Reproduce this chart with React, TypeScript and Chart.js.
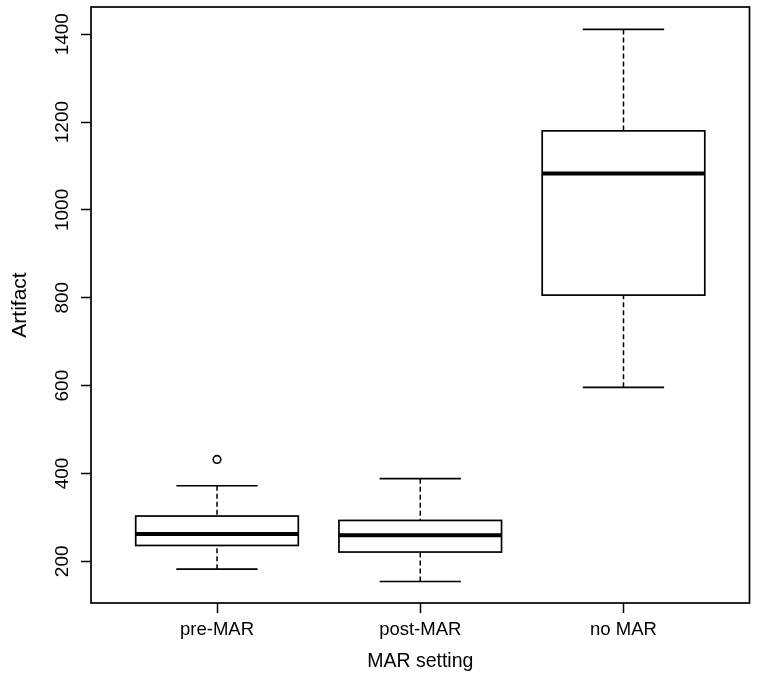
import React, { useEffect, useRef } from "react";
import { Chart, registerables } from "chart.js";

Chart.register(...registerables);

// ---- Data ----
const categories = ["pre-MAR", "post-MAR", "no MAR"];
const whiskerLow = [182, 154, 596];
const q1 = [236, 221, 806];
const median = [262, 259, 1083];
const q3 = [303, 293, 1180];
const whiskerHigh = [372, 388, 1411];
const outlierCategory = [1];
const outlierValue = [432];
const yTicks = [200, 400, 600, 800, 1000, 1200, 1400];
const xTicks = [1, 2, 3];

const FONT = "'Liberation Sans', Arial, Helvetica, sans-serif";
const INK = "#000";
const BOX_HALF = 0.4;
const CAP_HALF = 0.2;

const boxPlugin = {
  id: "rBoxes",
  beforeDatasetsDraw(chart: any) {
    const { ctx, scales } = chart;
    const x = scales.x;
    const y = scales.y;
    ctx.save();
    ctx.strokeStyle = "#000";
    categories.forEach((_, i) => {
      const c = i + 1;
      const xc = x.getPixelForValue(c);
      const xl = x.getPixelForValue(c - BOX_HALF);
      const xr = x.getPixelForValue(c + BOX_HALF);
      const cl = x.getPixelForValue(c - CAP_HALF);
      const cr = x.getPixelForValue(c + CAP_HALF);
      const yLo = y.getPixelForValue(whiskerLow[i]);
      const yQ1 = y.getPixelForValue(q1[i]);
      const yMed = y.getPixelForValue(median[i]);
      const yQ3 = y.getPixelForValue(q3[i]);
      const yHi = y.getPixelForValue(whiskerHigh[i]);

      // dashed whiskers
      ctx.lineWidth = 1.5;
      ctx.setLineDash([5, 3]);
      ctx.beginPath();
      ctx.moveTo(xc, yHi);
      ctx.lineTo(xc, yQ3);
      ctx.moveTo(xc, yLo);
      ctx.lineTo(xc, yQ1);
      ctx.stroke();
      ctx.setLineDash([]);

      // caps
      ctx.lineWidth = 1.7;
      ctx.beginPath();
      ctx.moveTo(cl, yHi);
      ctx.lineTo(cr, yHi);
      ctx.moveTo(cl, yLo);
      ctx.lineTo(cr, yLo);
      ctx.stroke();

      // box
      ctx.fillStyle = "#fff";
      ctx.fillRect(xl, yQ3, xr - xl, yQ1 - yQ3);
      ctx.lineWidth = 1.7;
      ctx.strokeRect(xl, yQ3, xr - xl, yQ1 - yQ3);

      // median
      ctx.lineWidth = 4;
      ctx.beginPath();
      ctx.moveTo(xl, yMed);
      ctx.lineTo(xr, yMed);
      ctx.stroke();
    });
    ctx.restore();
  },
  afterDraw(chart: any) {
    const { ctx, chartArea } = chart;
    ctx.save();
    ctx.strokeStyle = "#000";
    ctx.lineWidth = 1.7;
    ctx.strokeRect(
      chartArea.left,
      chartArea.top,
      chartArea.right - chartArea.left,
      chartArea.bottom - chartArea.top
    );
    ctx.restore();
  },
};

export default function App() {
  const canvasRef = useRef<HTMLCanvasElement | null>(null);

  useEffect(() => {
    const canvas = canvasRef.current;
    if (!canvas) return;
    const chart = new Chart(canvas, {
      type: "scatter",
      data: {
        datasets: [
          {
            label: "outliers",
            data: outlierValue.map((v, i) => ({ x: outlierCategory[i], y: v })),
            pointRadius: 3.8,
            pointHoverRadius: 3.8,
            pointBorderWidth: 1.6,
            borderColor: "#000",
            backgroundColor: "#fff",
            pointStyle: "circle",
          },
        ],
      },
      options: {
        animation: false,
        responsive: false,
        devicePixelRatio: 1,
        events: [],
        layout: { padding: { top: 7, right: 8.5, left: 0, bottom: 0 } },
        plugins: {
          legend: { display: false },
          tooltip: { enabled: false },
          title: { display: false },
        },
        scales: {
          x: {
            type: "linear",
            min: 0.38,
            max: 3.62,
            afterBuildTicks: (s: any) => {
              s.ticks = xTicks.map((v) => ({ value: v }));
            },
            afterFit: (s: any) => {
              s.height = 90;
              s.paddingLeft = 0;
              s.paddingRight = 0;
            },
            grid: {
              display: true,
              drawOnChartArea: false,
              drawTicks: true,
              tickLength: 10,
              color: "#000",
              tickColor: "#000",
              tickWidth: 1.5,
            },
            border: { display: false },
            ticks: {
              color: INK,
              padding: 6,
              maxRotation: 0,
              minRotation: 0,
              autoSkip: false,
              font: { family: FONT, size: 18.5 },
              callback: (v: any) => categories[Number(v) - 1] ?? "",
            },
            title: {
              display: true,
              text: "MAR setting",
              color: INK,
              font: { family: FONT, size: 19.5 },
              padding: { top: 0, bottom: 20 },
            },
          },
          y: {
            type: "linear",
            min: 105,
            max: 1462,
            afterBuildTicks: (s: any) => {
              s.ticks = yTicks.map((v) => ({ value: v }));
            },
            afterFit: (s: any) => {
              s.width = 91;
              s.paddingTop = 0;
              s.paddingBottom = 0;
            },
            grid: {
              display: true,
              drawOnChartArea: false,
              drawTicks: true,
              tickLength: 10,
              color: "#000",
              tickColor: "#000",
              tickWidth: 1.5,
            },
            border: { display: false },
            ticks: {
              color: INK,
              padding: -3,
              minRotation: 90,
              maxRotation: 90,
              crossAlign: "center",
              autoSkip: false,
              font: { family: FONT, size: 19 },
              callback: (v: any) => String(v),
            },
            title: {
              display: true,
              text: "Artifact",
              color: INK,
              font: { family: FONT, size: 21 },
              padding: { top: 7.5, bottom: 0 },
            },
          },
        },
      },
      plugins: [boxPlugin],
    } as any);
    return () => chart.destroy();
  }, []);

  return (
    <div
      style={{
        position: "fixed",
        left: 0,
        top: 0,
        width: 758,
        height: 693,
        background: "#fff",
      }}
    >
      <canvas ref={canvasRef} width={758} height={693} style={{ display: "block" }} />
    </div>
  );
}
